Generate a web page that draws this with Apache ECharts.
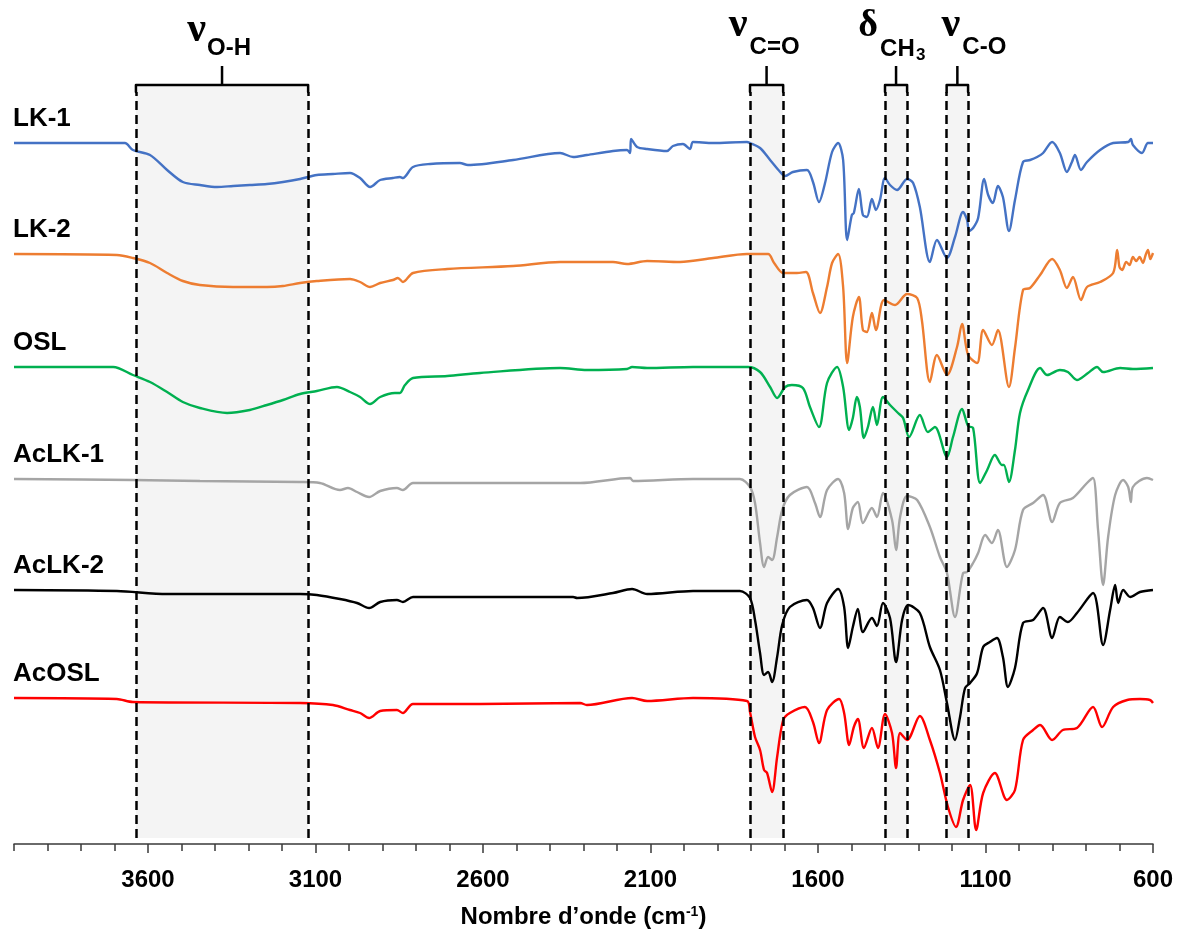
<!DOCTYPE html>
<html><head><meta charset="utf-8">
<script src="https://cdn.jsdelivr.net/npm/echarts@6/dist/echarts.min.js"></script>
<style>html,body{margin:0;padding:0;background:#fff}#c{width:1177px;height:934px}</style>
</head><body><div id="c"></div>
<script>
// ---------- DATA (wavenumber cm-1, offset transmittance a.u.) ----------
const SERIES_NAMES = ['LK-1', 'LK-2', 'OSL', 'AcLK-1', 'AcLK-2', 'AcOSL'];
const X_TICK_LABELS = [3600, 3100, 2600, 2100, 1600, 1100, 600];

const LK1 = [[4000,704],[3743,704],[3669,704],[3645,697],[3594,692],[3543,677],[3496,665],[3445,662],[3394,660],[3346,661],[3296,662],[3245,663],[3197,665],[3146,668],[3096,672],[3048,673],[2997,674],[2967,669],[2937,660],[2907,667],[2869,669],[2848,670],[2839,669],[2809,680],[2758,683],[2669,684],[2645,682],[2510,687],[2370,694],[2331,690],[2290,692],[2212,696],[2170,697],[2161,694],[2158,708],[2140,700],[2110,698],[2051,696],[2033,701],[2003,703],[1982,698],[1973,705],[1913,704],[1812,705],[1803,704],[1773,699],[1743,687],[1713,675],[1698,671],[1675,675],[1633,677],[1615,665],[1597,645],[1579,664],[1558,695],[1540,704],[1525,687],[1513,607],[1499,632],[1493,634],[1478,658],[1466,632],[1454,630],[1439,648],[1427,637],[1415,647],[1400,669],[1385,662],[1364,657],[1334,668],[1316,664],[1296,640],[1266,585],[1245,607],[1215,589],[1191,610],[1167,635],[1155,627],[1149,616],[1137,619],[1122,629],[1104,668],[1092,652],[1078,644],[1063,661],[1048,650],[1030,616],[1012,647],[988,685],[967,687],[946,690],[928,694],[901,705],[878,694],[857,675],[842,685],[833,692],[815,677],[797,685],[758,697],[719,704],[674,705],[666,708],[660,702],[633,694],[615,704],[600,704]];

const LK2 = [[4000,593],[3693,592],[3645,589],[3594,584],[3543,574],[3496,566],[3445,562],[3346,560],[3245,560],[3197,561],[3146,564],[3096,566],[2997,568],[2967,565],[2937,560],[2907,564],[2869,567],[2854,569],[2839,565],[2809,574],[2707,578],[2510,581],[2370,585],[2212,585],[2170,583],[2110,586],[2012,585],[1913,589],[1812,593],[1749,593],[1731,584],[1704,574],[1663,574],[1636,575],[1615,554],[1594,534],[1573,560],[1558,584],[1540,593],[1525,560],[1513,484],[1496,530],[1478,550],[1466,517],[1454,515],[1439,534],[1427,517],[1403,547],[1370,542],[1334,553],[1304,549],[1290,527],[1266,465],[1245,492],[1215,472],[1185,500],[1170,523],[1152,492],[1125,484],[1107,517],[1081,502],[1063,517],[1030,460],[1012,499],[988,557],[967,559],[937,572],[901,588],[878,577],[857,559],[839,570],[815,547],[797,560],[758,565],[719,574],[707,597],[700,580],[692,577],[680,585],[670,582],[660,590],[650,586],[640,590],[630,584],[622,592],[615,597],[608,588],[600,594]];

const OSL = [[4000,480],[3704,480],[3645,472],[3594,465],[3543,455],[3496,445],[3445,439],[3364,434],[3296,437],[3245,442],[3197,447],[3146,453],[3096,456],[3036,460],[2997,455],[2967,450],[2937,443],[2907,450],[2863,454],[2848,454],[2833,462],[2809,469],[2707,471],[2609,474],[2370,479],[2290,477],[2170,478],[2155,480],[2110,479],[1973,480],[1809,480],[1773,475],[1743,460],[1722,449],[1698,460],[1678,462],[1645,459],[1624,440],[1597,420],[1573,464],[1543,480],[1525,460],[1507,417],[1496,429],[1484,450],[1475,440],[1463,409],[1451,420],[1436,440],[1424,422],[1406,450],[1385,442],[1361,434],[1346,429],[1328,410],[1296,432],[1272,415],[1251,420],[1215,390],[1197,410],[1170,438],[1152,421],[1137,419],[1116,364],[1095,377],[1072,392],[1051,382],[1045,382],[1030,365],[1012,397],[997,434],[973,457],[937,479],[916,472],[878,477],[854,475],[827,467],[794,474],[767,480],[749,475],[698,479],[660,478],[600,479]];

const ACLK1 = [[4000,368],[3645,367],[3445,366],[3146,365],[3087,364],[3027,357],[3003,359],[2976,355],[2940,350],[2907,356],[2857,359],[2839,357],[2809,364],[2609,364],[2310,364],[2161,369],[2152,366],[1973,368],[1833,368],[1803,360],[1788,344],[1773,304],[1761,280],[1749,290],[1737,287],[1722,310],[1707,337],[1684,352],[1633,360],[1609,344],[1594,330],[1573,357],[1540,368],[1522,354],[1510,318],[1496,339],[1481,345],[1466,324],[1439,339],[1424,330],[1406,354],[1379,327],[1367,297],[1355,330],[1334,351],[1304,347],[1266,320],[1236,290],[1215,274],[1191,230],[1167,274],[1155,275],[1137,284],[1122,294],[1101,312],[1081,304],[1063,317],[1036,280],[1012,297],[988,337],[958,344],[928,352],[901,325],[878,344],[839,349],[797,364],[779,369],[764,317],[749,262],[734,310],[713,352],[689,367],[674,360],[666,345],[660,360],[618,369],[600,367]];

const ACLK2 = [[4000,257],[3693,256],[3543,253],[3146,253],[3096,252],[3027,248],[2976,244],[2940,239],[2907,245],[2857,247],[2839,245],[2809,250],[2609,250],[2331,250],[2319,249],[2212,254],[2155,258],[2110,253],[1973,256],[1833,256],[1803,249],[1788,227],[1773,194],[1761,172],[1749,175],[1737,165],[1722,190],[1707,222],[1684,240],[1633,247],[1615,239],[1594,219],[1573,244],[1540,258],[1522,240],[1510,199],[1496,220],[1481,238],[1466,215],[1439,229],[1424,221],[1406,244],[1385,229],[1367,185],[1349,227],[1331,242],[1296,234],[1266,200],[1236,177],[1215,144],[1191,107],[1176,130],[1161,159],[1146,164],[1125,174],[1107,200],[1087,205],[1066,209],[1048,190],[1033,160],[1012,179],[988,224],[958,227],[928,239],[901,209],[878,230],[854,225],[827,234],[779,254],[749,202],[728,237],[713,262],[704,244],[689,257],[668,250],[639,255],[600,257]];

const ACOSL = [[4000,149],[3693,148],[3645,145],[3146,144],[3048,142],[2997,137],[2967,134],[2940,129],[2907,136],[2857,137],[2839,134],[2809,143],[2609,143],[2310,144],[2290,142],[2155,149],[2110,146],[1973,149],[1812,146],[1803,135],[1788,110],[1773,97],[1761,77],[1752,74],[1737,55],[1722,90],[1704,127],[1684,134],[1639,140],[1615,125],[1597,104],[1573,137],[1537,148],[1522,134],[1507,102],[1493,120],[1481,128],[1463,99],[1439,119],[1421,99],[1400,133],[1379,114],[1367,79],[1355,114],[1334,107],[1296,131],[1266,107],[1236,74],[1212,40],[1188,20],[1167,47],[1146,62],[1128,17],[1107,54],[1072,74],[1036,47],[1012,57],[988,107],[958,117],[937,122],[901,107],[869,117],[827,119],[779,140],[752,120],[719,140],[677,147],[639,148],[609,147],[600,144]];

// absorption bands highlighted (wavenumber ranges)
const BANDS = [
  {key: 'OH',  from: 3636, to: 3122},
  {key: 'CO2', from: 1803, to: 1704},
  {key: 'CH3', from: 1400, to: 1334},
  {key: 'CO1', from: 1216, to: 1152}
];

// ---------- STYLE / LAYOUT ----------
const COLORS = ['#4472C4', '#ED7D31', '#00B050', '#A5A5A5', '#000000', '#FF0000'];
const ALL = [LK1, LK2, OSL, ACLK1, ACLK2, ACOSL];
const SANS = '"Liberation Sans", Arial, sans-serif';
const SERIF = '"Liberation Serif", "Times New Roman", serif';
const BAND_BOTTOM = 9, BRACKET_Y = 762, BRACKET_END = 755, STEM_TOP = 781;

const chart = echarts.init(document.getElementById('c'), null, {renderer: 'canvas'});

const series = [];
// brackets + shaded boxes
BANDS.forEach((b, i) => {
  const s = {
    type: 'line', silent: true, z: 1, showSymbol: false, animation: false,
    lineStyle: {color: '#000', width: 2.5, join: 'round', cap: 'round'},
    data: [[b.from, BRACKET_END], [b.from, BRACKET_Y], [b.to, BRACKET_Y], [b.to, BRACKET_END]]
  };
  if (i === 0) {
    s.markArea = {
      silent: true,
      itemStyle: {color: '#F4F4F4'},
      data: BANDS.map(bb => [{coord: [bb.from, BAND_BOTTOM]}, {coord: [bb.to, BRACKET_Y]}])
    };
  }
  series.push(s);
  series.push({
    type: 'line', silent: true, z: 1, showSymbol: false, animation: false,
    lineStyle: {color: '#000', width: 2.5},
    data: [[(b.from + b.to) / 2, BRACKET_Y], [(b.from + b.to) / 2, STEM_TOP]]
  });
});

SERIES_NAMES.forEach((n, i) => {
  series.push({
    name: n, type: 'line', data: ALL[i], z: 2, showSymbol: false, smooth: 0.3,
    animation: false,
    lineStyle: {color: COLORS[i], width: 2.4},
    itemStyle: {color: COLORS[i]}
  });
});

// dashed verticals
series.push({
  type: 'line', data: [], z: 5, silent: true, animation: false,
  markLine: {
    silent: true, symbol: ['none', 'none'], animation: false,
    label: {show: false},
    lineStyle: {type: [9, 5], width: 2.5, color: '#000'},
    data: BANDS.flatMap(b => [
      [{coord: [b.from, BAND_BOTTOM]}, {coord: [b.from, BRACKET_END]}],
      [{coord: [b.to, BAND_BOTTOM]}, {coord: [b.to, BRACKET_END]}]
    ])
  }
});

const axisBase = {
  type: 'value', min: 600, max: 4000, interval: 100, inverse: true,
  position: 'bottom', offset: -3,
  splitLine: {show: false}
};

chart.setOption({
  animation: false,
  backgroundColor: '#fff',
  grid: {left: 14, right: 24, top: 47, bottom: 87, containLabel: false},
  xAxis: [
    Object.assign({}, axisBase, {
      axisLine: {show: true, lineStyle: {color: '#3a3a3a', width: 1.5}},
      axisTick: {show: true, length: 7, lineStyle: {color: '#3a3a3a', width: 1.5}},
      axisLabel: {
        margin: 24, color: '#000', fontFamily: SANS, fontWeight: 'bold', fontSize: 24,
        formatter: v => X_TICK_LABELS.includes(Math.round(v)) ? String(Math.round(v)) : ''
      },
      name: 'Nombre d\u2019onde (cm{sup|-1})',
      nameLocation: 'middle', nameGap: 61,
      nameTextStyle: {
        color: '#000', fontFamily: SANS, fontWeight: 'bold', fontSize: 24,
        rich: {sup: {fontFamily: SANS, fontWeight: 'bold', fontSize: 14, color: '#000', verticalAlign: 'top', padding: [0, 0, 10, 0]}}
      }
    }),
    Object.assign({}, axisBase, {
      axisLine: {show: false},
      axisTick: {show: true, length: 9, customValues: X_TICK_LABELS, lineStyle: {color: '#3a3a3a', width: 1.5}},
      axisLabel: {show: false}
    })
  ],
  yAxis: {type: 'value', min: 0, max: 800, show: false},
  series: series
});

// ---------- text annotations ----------
const px = v => chart.convertToPixel({xAxisIndex: 0}, v);
const py = v => chart.convertToPixel({yAxisIndex: 0}, v);
const graphics = [];
function txt(text, x, baseline, size, family, align) {
  graphics.push({
    type: 'text', x: x, y: baseline - 0.31 * size, silent: true,
    style: {text: text, font: 'bold ' + size + 'px ' + family, fill: '#000', align: align, verticalAlign: 'middle'}
  });
}
const LABEL_PARTS = {
  OH:  [['\u03BD', -16, 43, 42, SERIF, 'right'], ['O-H', -15, 56, 24, SANS, 'left']],
  CO2: [['\u03BD', -19, 38, 42, SERIF, 'right'], ['C=O', -17, 55, 24, SANS, 'left']],
  CH3: [['\u03B4', -18, 38, 38, SERIF, 'right'], ['CH', -16, 57, 24, SANS, 'left'], ['3', 20, 61, 17, SANS, 'left']],
  CO1: [['\u03BD', 3, 38, 42, SERIF, 'right'], ['C-O', 5, 55, 24, SANS, 'left']]
};
BANDS.forEach(b => {
  const sx = px((b.from + b.to) / 2);
  LABEL_PARTS[b.key].forEach(p => txt(p[0], sx + p[1], p[2], p[3], p[4], p[5]));
});
// sample names above the start of each trace
SERIES_NAMES.forEach((n, i) => {
  const y0 = py(ALL[i][0][1]);
  graphics.push({
    type: 'text', x: 13, y: y0 - 24, silent: true,
    style: {text: n, font: 'bold 26px ' + SANS, fill: '#000', align: 'left', verticalAlign: 'middle'}
  });
});
chart.setOption({graphic: graphics});
</script></body></html>
